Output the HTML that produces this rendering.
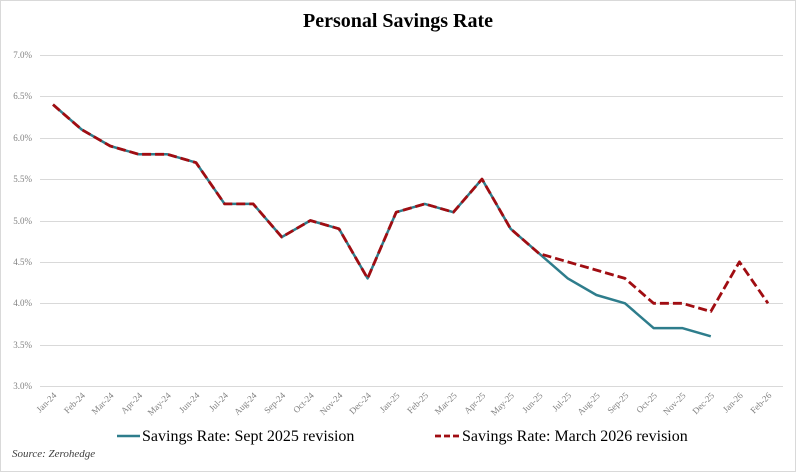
<!DOCTYPE html>
<html><head><style>
html,body{margin:0;padding:0;background:#fff;}
svg{display:block;}
</style></head><body>
<svg width="796" height="472" xmlns="http://www.w3.org/2000/svg" font-family="Liberation Serif, serif">
<rect x="0.5" y="0.5" width="795" height="471" fill="#fff" stroke="#d9d9d9"/>
<text x="398" y="27" text-anchor="middle" font-size="20" font-weight="bold" fill="#000">Personal Savings Rate</text>
<g stroke="#d9d9d9" stroke-width="1">
<line x1="40" x2="783" y1="55.5" y2="55.5"/>
<line x1="40" x2="783" y1="96.5" y2="96.5"/>
<line x1="40" x2="783" y1="138.5" y2="138.5"/>
<line x1="40" x2="783" y1="179.5" y2="179.5"/>
<line x1="40" x2="783" y1="221.5" y2="221.5"/>
<line x1="40" x2="783" y1="262.5" y2="262.5"/>
<line x1="40" x2="783" y1="303.5" y2="303.5"/>
<line x1="40" x2="783" y1="345.5" y2="345.5"/>
<line x1="40" x2="783" y1="386.5" y2="386.5"/>
</g>
<g font-size="9" fill="#808080" text-anchor="end">
<text x="32" y="58">7.0%</text>
<text x="32" y="99">6.5%</text>
<text x="32" y="141">6.0%</text>
<text x="32" y="182">5.5%</text>
<text x="32" y="224">5.0%</text>
<text x="32" y="265">4.5%</text>
<text x="32" y="306">4.0%</text>
<text x="32" y="348">3.5%</text>
<text x="32" y="389">3.0%</text>
</g>
<g id="xl" font-size="9" fill="#808080" text-anchor="end"></g>
<polyline id="sept" fill="none" stroke="#2e7d8c" stroke-width="2.5" stroke-linejoin="round"/>
<polyline id="mar" fill="none" stroke="#a00d12" stroke-width="2.8" stroke-dasharray="9,4" stroke-linejoin="round"/>
<line x1="117" x2="140" y1="436" y2="436" stroke="#2e7d8c" stroke-width="2.5"/>
<text x="142" y="441" font-size="16" fill="#000">Savings Rate: Sept 2025 revision</text>
<line x1="435" x2="460" y1="436" y2="436" stroke="#a00d12" stroke-width="2.8" stroke-dasharray="6,3"/>
<text x="462" y="441" font-size="16" fill="#000">Savings Rate: March 2026 revision</text>
<text x="12" y="457" font-size="11" font-style="italic" fill="#404040">Source: Zerohedge</text>
</svg>
<script>
var labels=["Jan-24","Feb-24","Mar-24","Apr-24","May-24","Jun-24","Jul-24","Aug-24","Sep-24","Oct-24","Nov-24","Dec-24","Jan-25","Feb-25","Mar-25","Apr-25","May-25","Jun-25","Jul-25","Aug-25","Sep-25","Oct-25","Nov-25","Dec-25","Jan-26","Feb-26"];
var base=[6.4,6.1,5.9,5.8,5.8,5.7,5.2,5.2,4.8,5.0,4.9,4.3,5.1,5.2,5.1,5.5,4.9,4.6];
var sept=base.concat([4.3,4.1,4.0,3.7,3.7,3.6]);
var mar=base.concat([4.5,4.4,4.3,4.0,4.0,3.9,4.5,4.0]);
function X(i){return 53+i*28.6;}
function Y(v){return 55+(7-v)*82.75;}
function pts(a){return a.map(function(v,i){return X(i).toFixed(1)+","+Y(v).toFixed(1);}).join(" ");}
document.getElementById("sept").setAttribute("points",pts(sept));
document.getElementById("mar").setAttribute("points",pts(mar));
var g=document.getElementById("xl"),ns="http://www.w3.org/2000/svg";
labels.forEach(function(l,i){var t=document.createElementNS(ns,"text");var x=X(i)+4,y=396;t.setAttribute("x",x);t.setAttribute("y",y);t.setAttribute("transform","rotate(-45 "+x+" "+y+")");t.textContent=l;g.appendChild(t);});
</script>
</body></html>
